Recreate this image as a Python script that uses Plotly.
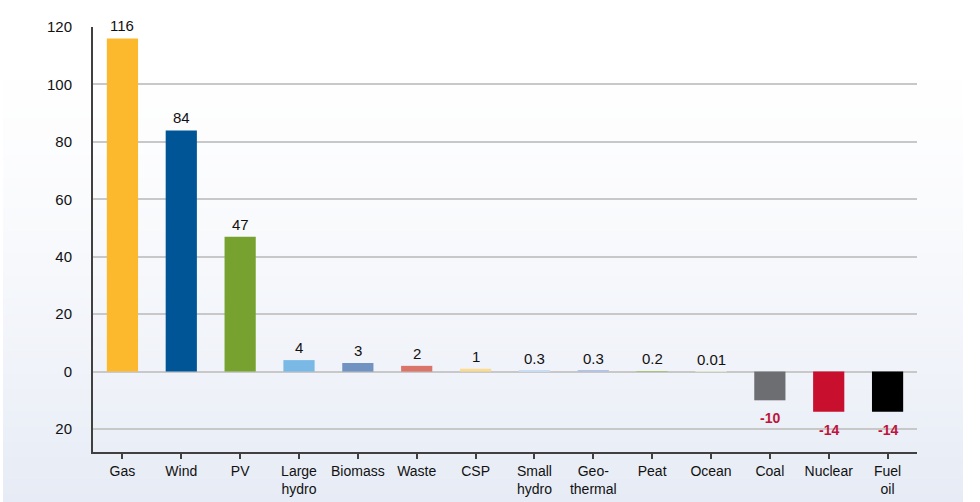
import plotly.graph_objects as go

categories = ["Gas", "Wind", "PV", "Large<br>hydro", "Biomass", "Waste", "CSP",
              "Small<br>hydro", "Geo-<br>thermal", "Peat", "Ocean", "Coal",
              "Nuclear", "Fuel<br>oil"]
values = [116, 84, 47, 4, 3, 2, 1, 0.3, 0.3, 0.2, 0.01, -10, -14, -14]
colors = ["#FDB92E", "#005596", "#77A22F", "#7AB8E6", "#7193C2", "#DB7468",
          "#FDDB8E", "#C9DDF2", "#B6C3E0", "#A9C47A", "#DDE8CC", "#6D6E71",
          "#C8102E", "#000000"]
ytick_vals = [-20, 0, 20, 40, 60, 80, 100, 120]
ytick_text = ["20", "0", "20", "40", "60", "80", "100", "120"]

FONT = "Liberation Sans"

fig = go.Figure(go.Bar(
    x=list(range(len(categories))), y=values, marker_color=colors,
    marker_line_width=0, width=0.53, cliponaxis=False,
))

# value labels
annotations = []
for i, v in enumerate(values):
    if v >= 0:
        annotations.append(dict(x=i, y=v, xref="x", yref="y", text=f"{v:g}",
                                showarrow=False, yanchor="bottom", yshift=2,
                                font=dict(family=FONT, size=15, color="#111111")))
    else:
        annotations.append(dict(x=i, y=v, xref="x", yref="y", text=f"<b>{v:g}</b>",
                                showarrow=False, yanchor="top", yshift=-8,
                                font=dict(family=FONT, size=14, color="#C0143C")))

# background gradient (white -> pale blue)
W, H = 980, 502
l, r, t, b = 93, 63, 27, 50
pw, ph = W - l - r, H - t - b
shapes = []
n = 60
top_c = (255, 255, 255)
bot_c = (230, 235, 245)
y0px = 50
for i in range(n):
    ya = y0px + (H - y0px) * i / n
    yb = y0px + (H - y0px) * (i + 1) / n + 1.0
    f = ((i + 0.5) / n) ** 1.4
    c = tuple(round(top_c[k] + (bot_c[k] - top_c[k]) * f) for k in range(3))
    shapes.append(dict(type="rect", xref="paper", yref="paper", layer="below",
                       x0=(3 - l) / pw, x1=(963 - l) / pw,
                       y0=(H - b - yb) / ph, y1=(H - b - ya) / ph,
                       line_width=0, fillcolor=f"rgb{c}"))

fig.update_layout(
    width=W, height=H,
    margin=dict(l=l, r=r, t=t, b=b),
    paper_bgcolor="white", plot_bgcolor="rgba(0,0,0,0)",
    showlegend=False, shapes=shapes, annotations=annotations,
    font=dict(family=FONT, size=14, color="#111111"),
    xaxis=dict(tickmode="array", tickvals=list(range(len(categories))),
               ticktext=categories, range=[-0.5, len(categories) - 0.5],
               showline=True, linecolor="#404040", linewidth=2,
               ticks="outside", tickson="boundaries", ticklen=5,
               tickcolor="#404040", tickwidth=2, showgrid=False,
               ticklabelstandoff=0, automargin=False,
               tickfont=dict(family=FONT, size=14, color="#111111")),
    yaxis=dict(range=[-28, 120], tickmode="array", tickvals=ytick_vals,
               ticktext=ytick_text, showline=True, linecolor="#404040",
               linewidth=2, showgrid=True, gridcolor="#C8C8C8", gridwidth=2,
               zeroline=True, zerolinecolor="#C8C8C8", zerolinewidth=2,
               ticks="", ticklabelstandoff=16, automargin=False,
               tickfont=dict(family=FONT, size=15, color="#111111")),
)

fig.write_html("out.html")
